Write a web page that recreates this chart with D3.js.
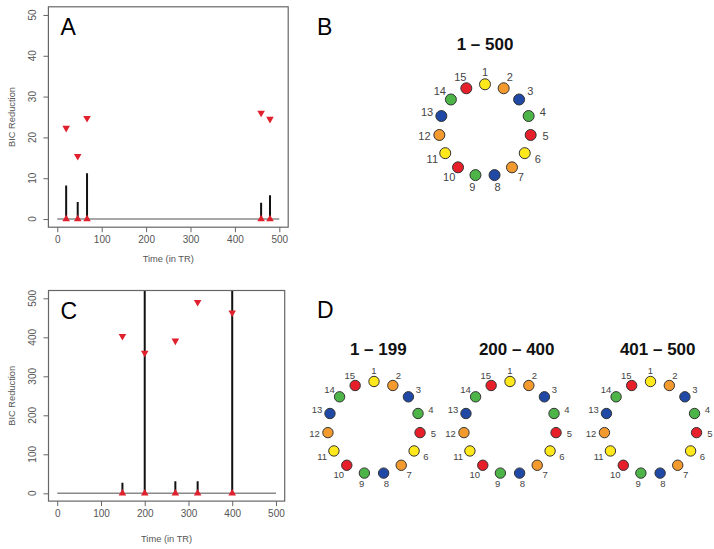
<!DOCTYPE html>
<html>
<head>
<meta charset="utf-8">
<script src="https://cdn.jsdelivr.net/npm/d3@7"></script>
<style>
  html, body { margin: 0; padding: 0; background: #fff; }
  svg { display: block; font-family: "Liberation Sans", Arial, sans-serif; }
</style>
</head>
<body>
<svg id="chart" width="714" height="549"></svg>
<script>
// ---------- data ----------
const xTicks = [0, 100, 200, 300, 400, 500];
const yTicksA = [0, 10, 20, 30, 40, 50];
const yTicksC = [0, 100, 200, 300, 400, 500];

const timesA = [20, 46, 67, 459, 479];
const spikeA = [8.2, 4.2, 11.2, 4.0, 5.8];
const downA  = [22.3, 15.4, 24.7, 26.0, 24.5];

const timesC = [149, 200, 270, 321, 400];
const spikeC = [27, 1200, 31, 31, 1200];
const downC  = [403, 360, 391, 490, 463];

const nodeIds = [1,2,3,4,5,6,7,8,9,10,11,12,13,14,15];
const nodeColors = ["yellow","orange","blue","green","red","yellow","orange","blue","green","red","yellow","orange","blue","green","red"];
const titleB = ["1 – 500"];
const titlesD = ["1 – 199", "200 – 400", "401 – 500"];
const panelLetters = ["A", "B", "C", "D"];

const palette = { yellow: "#ffe81c", orange: "#f29a2e", blue: "#2049a6", green: "#4db447", red: "#e61f2b" };

const svg = d3.select("#chart");

// ---------- time-series panels ----------
function tsPanel(cfg) {
  const x = d3.scaleLinear().domain([-20, 520]).range([cfg.left, cfg.right]);
  const y = d3.scaleLinear().domain(cfg.ydom).range([cfg.bottom, cfg.top]);
  const g = svg.append("g");
  const clipId = "clip" + cfg.id;
  svg.append("clipPath").attr("id", clipId).append("rect")
    .attr("x", cfg.left).attr("y", cfg.top)
    .attr("width", cfg.right - cfg.left).attr("height", cfg.bottom - cfg.top);

  const plot = g.append("g").attr("clip-path", `url(#${clipId})`);
  plot.append("line")
    .attr("x1", x(0)).attr("x2", x(500)).attr("y1", y(0)).attr("y2", y(0))
    .attr("stroke", "#8a8a8a").attr("stroke-width", 1.6);
  plot.selectAll("line.spike").data(cfg.times).enter().append("line")
    .attr("class", "spike")
    .attr("x1", d => x(d)).attr("x2", d => x(d))
    .attr("y1", y(0)).attr("y2", (d, i) => y(cfg.spike[i]))
    .attr("stroke", "#111").attr("stroke-width", 2);
  const tri = d3.symbol().type(d3.symbolTriangle).size(25);
  plot.selectAll("path.up").data(cfg.times).enter().append("path")
    .attr("d", tri)
    .attr("transform", d => `translate(${x(d)},${y(0)})`)
    .attr("fill", "#e0202c");
  plot.selectAll("path.down").data(cfg.times).enter().append("path")
    .attr("d", tri)
    .attr("transform", (d, i) => `translate(${x(d)},${y(cfg.down[i])}) rotate(180)`)
    .attr("fill", "#e0202c");

  g.append("rect")
    .attr("x", cfg.left).attr("y", cfg.top)
    .attr("width", cfg.right - cfg.left).attr("height", cfg.bottom - cfg.top)
    .attr("fill", "none").attr("stroke", "#666").attr("stroke-width", 1.2);

  const xa = g.append("g").attr("transform", `translate(0,${cfg.bottom})`)
    .call(d3.axisBottom(x).tickValues(xTicks).tickSize(5).tickSizeOuter(0).tickPadding(4));
  xa.select(".domain").remove();
  xa.selectAll("line").attr("stroke", "#666");
  xa.selectAll("text").attr("font-size", 10).attr("fill", "#555")
    .attr("font-family", "Liberation Sans, Arial, sans-serif");

  const ya = g.append("g").attr("transform", `translate(${cfg.left},0)`)
    .call(d3.axisLeft(y).tickValues(cfg.yticks).tickSize(5).tickSizeOuter(0));
  ya.select(".domain").remove();
  ya.selectAll("line").attr("stroke", "#666");
  ya.selectAll(".tick text").remove();
  cfg.yticks.forEach(v => {
    g.append("text")
      .attr("transform", `translate(${cfg.left - 12.5},${y(v)}) rotate(-90)`)
      .attr("text-anchor", "middle")
      .attr("font-size", 10).attr("fill", "#555")
      .text(v);
  });

  g.append("text")
    .attr("x", (x(0) + x(500)) / 2).attr("y", cfg.xTitleY)
    .attr("text-anchor", "middle").attr("font-size", 9.3).attr("fill", "#555")
    .text("Time (in TR)");
  g.append("text")
    .attr("transform", `translate(15,${(cfg.top + cfg.bottom) / 2}) rotate(-90)`)
    .attr("text-anchor", "middle").attr("font-size", 9.3).attr("fill", "#555")
    .text("BIC Reduction");

  g.append("text")
    .attr("x", cfg.left + 12).attr("y", cfg.letterY)
    .attr("font-size", 23).attr("fill", "#000")
    .text(cfg.letter);
}

tsPanel({ id: "A", left: 48.4, right: 288.2, top: 6.8, bottom: 227.2, ydom: [-2, 52],
  yticks: yTicksA, times: timesA, spike: spikeA, down: downA,
  xTitleY: 261.5, letterY: 35, letter: panelLetters[0] });
tsPanel({ id: "C", left: 48.5, right: 284.7, top: 290.5, bottom: 501.1, ydom: [-20, 520],
  yticks: yTicksC, times: timesC, spike: spikeC, down: downC,
  xTitleY: 541.5, letterY: 318.5, letter: panelLetters[2] });

// ---------- ring panels ----------
function ring(cx, cy, R, rNode, rLabel, labelSize, title, titleX, titleY) {
  const ang = d3.scaleLinear().domain([0, nodeIds.length]).range([0, 2 * Math.PI]);
  const g = svg.append("g");
  g.append("text").attr("x", titleX).attr("y", titleY)
    .attr("text-anchor", "middle").attr("font-weight", "bold")
    .attr("font-size", 17).attr("fill", "#111").text(title);
  const nodes = g.selectAll("g.node").data(nodeIds).enter().append("g");
  nodes.append("circle")
    .attr("cx", (d, i) => cx + R * Math.sin(ang(i)))
    .attr("cy", (d, i) => cy - R * Math.cos(ang(i)))
    .attr("r", rNode)
    .attr("fill", (d, i) => palette[nodeColors[i]])
    .attr("stroke", "#333").attr("stroke-width", 1);
  nodes.append("text")
    .attr("x", (d, i) => cx + rLabel * Math.sin(ang(i)) * 1.04)
    .attr("y", (d, i) => cy - rLabel * Math.cos(ang(i)))
    .attr("dy", "0.36em")
    .attr("text-anchor", "middle")
    .attr("font-size", labelSize).attr("fill", "#444")
    .text(d => d);
}

svg.append("text").attr("x", 317).attr("y", 35).attr("font-size", 23).attr("fill", "#000").text(panelLetters[1]);
ring(485, 130.2, 45.9, 5.5, 58.5, 11, titleB[0], 485, 50);

svg.append("text").attr("x", 317).attr("y", 318).attr("font-size", 23).attr("fill", "#000").text(panelLetters[3]);
const dCenters = [374, 510, 650.5];
const dTitleX = [378.3, 516.7, 657.7];
titlesD.forEach((t, k) => ring(dCenters[k], 427.8, 46.3, 5.2, 57.5, 9.5, t, dTitleX[k], 355));
</script>
</body>
</html>
